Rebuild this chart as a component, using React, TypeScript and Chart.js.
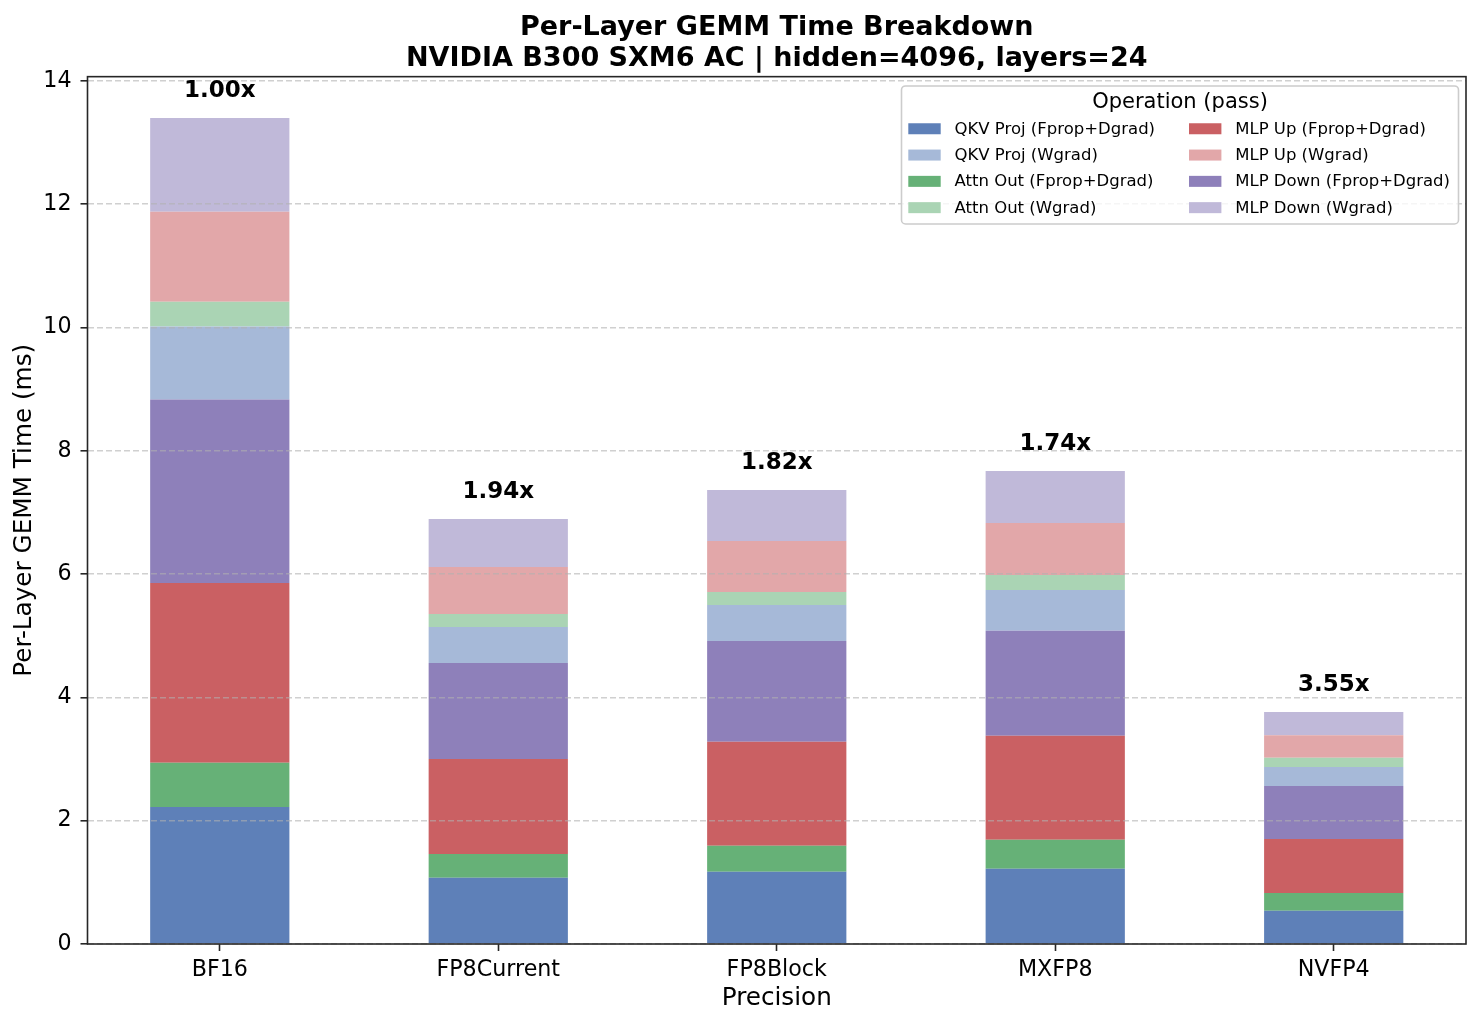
import { useEffect, useRef } from "react";
import { Chart, registerables, type ChartConfiguration, type Plugin } from "chart.js";

Chart.register(...registerables);

const FONT = "'DejaVu Sans', 'Liberation Sans', sans-serif";

const categories = ["BF16", "FP8Current", "FP8Block", "MXFP8", "NVFP4"];
const yTicks = [0, 2, 4, 6, 8, 10, 12, 14];
const speedups = ["1.00x", "1.94x", "1.82x", "1.74x", "3.55x"];

// per-layer time in ms, one array per stacked segment (bottom to top)
const qkvFprop = [2.224, 1.076, 1.173, 1.222, 0.54];
const attnFprop = [0.716, 0.384, 0.422, 0.47, 0.287];
const mlpUpFprop = [2.917, 1.541, 1.687, 1.687, 0.876];
const mlpDownFprop = [2.977, 1.558, 1.634, 1.704, 0.86];
const qkvWgrad = [1.182, 0.584, 0.584, 0.66, 0.309];
const attnWgrad = [0.402, 0.211, 0.211, 0.243, 0.15];
const mlpUpWgrad = [1.459, 0.762, 0.827, 0.844, 0.364];
const mlpDownWgrad = [1.523, 0.779, 0.827, 0.844, 0.378];

const series = [
  { label: "QKV Proj (Fprop+Dgrad)", values: qkvFprop, color: "#5e80b8" },
  { label: "Attn Out (Fprop+Dgrad)", values: attnFprop, color: "#66b177" },
  { label: "MLP Up (Fprop+Dgrad)", values: mlpUpFprop, color: "#ca6063" },
  { label: "MLP Down (Fprop+Dgrad)", values: mlpDownFprop, color: "#8e80ba" },
  { label: "QKV Proj (Wgrad)", values: qkvWgrad, color: "#a6b9d8" },
  { label: "Attn Out (Wgrad)", values: attnWgrad, color: "#aad4b4" },
  { label: "MLP Up (Wgrad)", values: mlpUpWgrad, color: "#e2a7a9" },
  { label: "MLP Down (Wgrad)", values: mlpDownWgrad, color: "#c0b9d9" }
];

// two legend columns, filled top to bottom
const legendOrder = [0, 4, 1, 5, 2, 6, 3, 7];

Chart.defaults.font.family = FONT;
Chart.defaults.color = "#000";

const overlay: Plugin<"bar"> = {
  id: "overlay",
  afterDraw(chart) {
    const { ctx, chartArea } = chart;
    const xs = chart.scales.x;
    const ys = chart.scales.y;
    ctx.save();

    // speedup labels above each stack
    ctx.font = `bold 23px ${FONT}`;
    ctx.fillStyle = "#000";
    ctx.textAlign = "center";
    ctx.textBaseline = "alphabetic";
    categories.forEach((_, i) => {
      const total = series.reduce((s, d) => s + d.values[i], 0);
      ctx.fillText(speedups[i], xs.getPixelForValue(i), ys.getPixelForValue(total) - 21);
    });

    // axes frame
    ctx.strokeStyle = "#262626";
    ctx.lineWidth = 1.6;
    ctx.strokeRect(chartArea.left, chartArea.top, chartArea.right - chartArea.left, chartArea.bottom - chartArea.top);

    // legend box
    const w = 557;
    const h = 138;
    const lx = chartArea.right - 7.5 - w;
    const ly = chartArea.top + 9.3;
    ctx.beginPath();
    if (ctx.roundRect) ctx.roundRect(lx, ly, w, h, 4);
    else ctx.rect(lx, ly, w, h);
    ctx.fillStyle = "rgba(255,255,255,0.8)";
    ctx.fill();
    ctx.strokeStyle = "#cccccc";
    ctx.lineWidth = 1.6;
    ctx.stroke();

    ctx.fillStyle = "#000";
    ctx.textBaseline = "middle";
    ctx.font = `21px ${FONT}`;
    ctx.fillText("Operation (pass)", lx + w / 2, ly + 16.3);

    ctx.font = `16.5px ${FONT}`;
    ctx.textAlign = "left";
    legendOrder.forEach((si, k) => {
      const col = Math.floor(k / 4);
      const row = k % 4;
      const px = lx + 6.8 + col * 280.7;
      const py = ly + 42.8 + row * 26.3;
      ctx.fillStyle = series[si].color;
      ctx.fillRect(px, py - 5.5, 32.4, 11);
      ctx.fillStyle = "#000";
      ctx.fillText(series[si].label, px + 46.2, py + 0.8);
    });

    ctx.restore();
  }
};

export default function App() {
  const canvasRef = useRef<HTMLCanvasElement | null>(null);

  useEffect(() => {
    if (!canvasRef.current) return;

    const config: ChartConfiguration<"bar"> = {
      type: "bar",
      data: {
        datasets: series.map((s) => ({
          label: s.label,
          data: s.values.map((v, i) => ({ x: i, y: v })),
          backgroundColor: s.color,
          borderWidth: 0,
          categoryPercentage: 1,
          barPercentage: 0.5
        }))
      },
      options: {
        responsive: true,
        maintainAspectRatio: false,
        animation: false,
        layout: { padding: { top: 0, left: 0, right: 16, bottom: 0 } },
        plugins: {
          legend: { display: false },
          tooltip: { enabled: false },
          title: {
            display: true,
            fullSize: false,
            text: ["Per-Layer GEMM Time Breakdown", "NVIDIA B300 SXM6 AC | hidden=4096, layers=24"],
            color: "#000",
            font: { family: FONT, size: 27, weight: "bold", lineHeight: 1.137 },
            padding: { top: 12.5, bottom: 2.76 }
          }
        },
        scales: {
          x: {
            type: "linear",
            min: -0.475,
            max: 4.475,
            stacked: true,
            offset: false,
            afterBuildTicks: (scale) => {
              scale.ticks = categories.map((_, i) => ({ value: i }));
            },
            afterFit: (scale) => {
              scale.height = 86;
            },
            ticks: {
              autoSkip: false,
              maxRotation: 0,
              padding: 6,
              color: "#000",
              font: { size: 22.2 },
              callback: (v) => categories[Number(v)] ?? ""
            },
            grid: {
              offset: false,
              drawOnChartArea: false,
              drawTicks: true,
              tickLength: 7,
              tickWidth: 1.6,
              tickColor: "#262626"
            },
            border: { display: false },
            title: {
              display: true,
              text: "Precision",
              color: "#000",
              font: { size: 24.7 },
              padding: { top: 0, bottom: 16.4 }
            }
          },
          y: {
            type: "linear",
            min: 0,
            max: 14.07,
            stacked: true,
            afterBuildTicks: (scale) => {
              scale.ticks = yTicks.map((v) => ({ value: v }));
            },
            afterFit: (scale) => {
              scale.width = 87.5;
            },
            ticks: {
              padding: 9,
              color: "#000",
              font: { size: 22.2 }
            },
            grid: {
              z: 1,
              color: "rgba(176,176,176,0.6)",
              lineWidth: 1.6,
              drawTicks: true,
              tickLength: 7,
              tickWidth: 1.6,
              tickColor: "#262626"
            },
            border: { display: false, dash: [6, 3] },
            title: {
              display: true,
              text: "Per-Layer GEMM Time (ms)",
              color: "#000",
              font: { size: 24.7 },
              padding: { top: 10.2, bottom: 0 }
            }
          }
        }
      },
      plugins: [overlay]
    };

    const chart = new Chart(canvasRef.current, config);
    return () => chart.destroy();
  }, []);

  return (
    <div style={{ position: "absolute", left: 0, top: 0, width: 1482, height: 1030, background: "#fff" }}>
      <canvas ref={canvasRef} />
    </div>
  );
}
